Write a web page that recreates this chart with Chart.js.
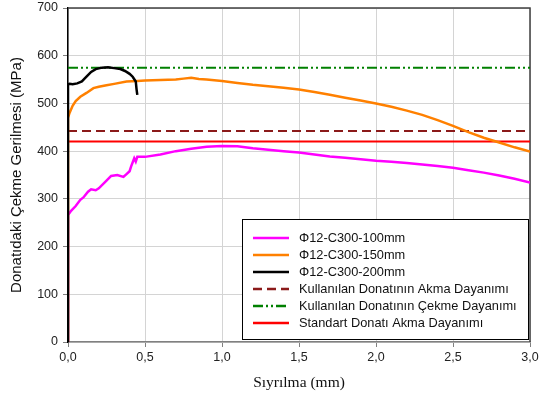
<!DOCTYPE html>
<html>
<head>
<meta charset="utf-8">
<script src="https://cdn.jsdelivr.net/npm/chart.js@4"></script>
<style>
  html, body { margin: 0; padding: 0; background: #fff; }
  #wrap { width: 540px; height: 403px; }
</style>
</head>
<body>
<div id="wrap"><canvas id="grafik" width="540" height="403"></canvas></div>
<script>
// Sıyrılma (mm) - gerilme (MPa) okumaları
const x100 = [0, 0, 0.02, 0.05, 0.08, 0.1, 0.13, 0.15, 0.18, 0.2, 0.25, 0.28, 0.32, 0.36, 0.38, 0.4, 0.41, 0.43, 0.44, 0.45, 0.5, 0.6, 0.7, 0.8, 0.9, 1.0, 1.1, 1.2, 1.3, 1.4, 1.5, 1.6, 1.7, 1.8, 1.9, 2.0, 2.1, 2.2, 2.3, 2.4, 2.5, 2.6, 2.7, 2.8, 2.9, 3.0];
const y100 = [0, 266, 275, 285, 298, 303, 315, 320, 318, 322, 338, 348, 350, 346, 352, 358, 368, 385, 378, 388, 388, 393, 400, 405, 409, 411, 410, 406, 403, 400, 397, 393, 389, 386, 383, 380, 378, 375, 372, 369, 365, 360, 355, 349, 342, 334];

const x150 = [0, 0, 0.01, 0.03, 0.05, 0.08, 0.12, 0.165, 0.2, 0.25, 0.3, 0.38, 0.45, 0.5, 0.6, 0.7, 0.75, 0.8, 0.85, 0.9, 1.0, 1.1, 1.2, 1.3, 1.4, 1.5, 1.6, 1.7, 1.8, 1.9, 2.0, 2.1, 2.2, 2.3, 2.4, 2.5, 2.6, 2.7, 2.8, 2.9, 3.0];
const y150 = [0, 470, 480, 495, 505, 514, 522, 532, 535, 538, 541, 546, 547, 548, 549, 550, 552, 554, 551, 550, 547, 543, 539, 536, 533, 529, 524, 518, 512, 506, 500, 493, 485, 476, 465, 453, 440, 428, 418, 408, 399];

const x200 = [0, 0, 0.01, 0.03, 0.06, 0.09, 0.12, 0.15, 0.18, 0.22, 0.26, 0.3, 0.34, 0.37, 0.4, 0.42, 0.44, 0.445, 0.45];
const y200 = [0, 540, 541, 540, 542, 546, 556, 566, 572, 575, 576, 574, 572, 568, 562, 556, 546, 530, 518];

const sinirX = [0, 3.0];
const akmaDayanimi = 442;
const cekmeDayanimi = 575;
const standartAkma = 420;

const etiketler = [
  "Φ12-C300-100mm",
  "Φ12-C300-150mm",
  "Φ12-C300-200mm",
  "Kullanılan Donatının Akma Dayanımı",
  "Kullanılan Donatının Çekme Dayanımı",
  "Standart Donatı Akma Dayanımı"
];

function noktalar(xs, ys) {
  return xs.map((x, i) => ({ x: x, y: ys[i] }));
}

function yatay(deger) {
  return sinirX.map((x) => ({ x: x, y: deger }));
}

// grafik içindeki açıklama kutusu
const aciklamaKutusu = {
  id: "aciklamaKutusu",
  afterDraw(chart) {
    const ctx = chart.ctx;
    const alan = chart.chartArea;
    const w = 286, h = 120;
    const x0 = alan.right - w - 2;
    const y0 = alan.bottom - h - 3;
    ctx.save();
    ctx.fillStyle = "#fff";
    ctx.fillRect(x0, y0, w, h);
    ctx.strokeStyle = "#000";
    ctx.lineWidth = 1;
    ctx.strokeRect(x0 + 0.5, y0 + 0.5, w, h);
    ctx.font = "12.8px 'Liberation Sans', Arial, sans-serif";
    ctx.textBaseline = "middle";
    chart.data.datasets.forEach((ds, i) => {
      const y = y0 + 19 + i * 17;
      ctx.beginPath();
      ctx.setLineDash(ds.borderDash || []);
      ctx.strokeStyle = ds.borderColor;
      ctx.lineWidth = 2.5;
      ctx.moveTo(x0 + 11, y);
      ctx.lineTo(x0 + 47, y);
      ctx.stroke();
      ctx.setLineDash([]);
      ctx.fillStyle = "#111";
      ctx.fillText(ds.label, x0 + 57, y + 0.5);
    });
    ctx.restore();
  }
};

// üst ve sağ çerçeve
const cerceve = {
  id: "cerceve",
  beforeDatasetsDraw(chart) {
    const ctx = chart.ctx;
    const a = chart.chartArea;
    ctx.save();
    ctx.strokeStyle = "#404040";
    ctx.lineWidth = 1.5;
    ctx.beginPath();
    ctx.moveTo(a.left, a.top);
    ctx.lineTo(a.right, a.top);
    ctx.lineTo(a.right, a.bottom);
    ctx.stroke();
    ctx.restore();
  }
};

function crearGrafik() {
  const ctx = document.getElementById("grafik").getContext("2d");
  new Chart(ctx, {
    type: "line",
    data: {
      datasets: [
        { label: etiketler[0], data: noktalar(x100, y100), borderColor: "#ff00ff", borderWidth: 2.5, order: 3 },
        { label: etiketler[1], data: noktalar(x150, y150), borderColor: "#ff8000", borderWidth: 2.5, order: 2 },
        { label: etiketler[2], data: noktalar(x200, y200), borderColor: "#000000", borderWidth: 2.5, order: 1 },
        { label: etiketler[3], data: yatay(akmaDayanimi), borderColor: "#8b1a1a", borderWidth: 2, borderDash: [9, 5], order: 4 },
        { label: etiketler[4], data: yatay(cekmeDayanimi), borderColor: "#008000", borderWidth: 2, borderDash: [10, 3, 2, 3, 2, 3], order: 4 },
        { label: etiketler[5], data: yatay(standartAkma), borderColor: "#ff0000", borderWidth: 2, order: 4 }
      ]
    },
    options: {
      responsive: false,
      animation: false,
      parsing: false,
      layout: { padding: { top: 8, right: 10, left: 0, bottom: 0 } },
      elements: {
        point: { radius: 0 },
        line: { tension: 0, fill: false }
      },
      plugins: {
        legend: { display: false },
        tooltip: { enabled: false }
      },
      scales: {
        x: {
          type: "linear",
          min: 0,
          max: 3,
          afterFit: (s) => { s.height = 61; s.paddingRight = 0; s.paddingLeft = 0; },
          ticks: {
            stepSize: 0.5,
            padding: 3,
            color: "#222",
            font: { family: "'Liberation Sans', Arial, sans-serif", size: 12.5 },
            callback: (v) => v.toFixed(1).replace(".", ",")
          },
          grid: { color: "#d4d4d4", tickLength: 5, tickColor: "#808080" },
          border: { color: "#808080", width: 1.5 },
          title: {
            display: true,
            text: "Sıyrılma (mm)",
            color: "#111",
            font: { family: "'Liberation Serif', 'Times New Roman', serif", size: 15.5 },
            padding: { top: 4, bottom: 11 }
          }
        },
        y: {
          min: 0,
          max: 700,
          afterFit: (s) => { s.width = 68; s.paddingTop = 0; s.paddingBottom = 0; },
          ticks: {
            stepSize: 100,
            padding: 5,
            color: "#222",
            font: { family: "'Liberation Sans', Arial, sans-serif", size: 12.5 }
          },
          grid: { color: "#d4d4d4", tickLength: 5, tickColor: "#808080" },
          border: { color: "#000", width: 1.5 },
          title: {
            display: true,
            text: "Donatıdaki Çekme Gerilmesi (MPa)",
            color: "#111",
            font: { family: "'Liberation Sans', Arial, sans-serif", size: 15 },
            padding: { top: 8, bottom: 4 }
          }
        }
      }
    },
    plugins: [cerceve, aciklamaKutusu]
  });
}

document.addEventListener("DOMContentLoaded", crearGrafik);
</script>
</body>
</html>
